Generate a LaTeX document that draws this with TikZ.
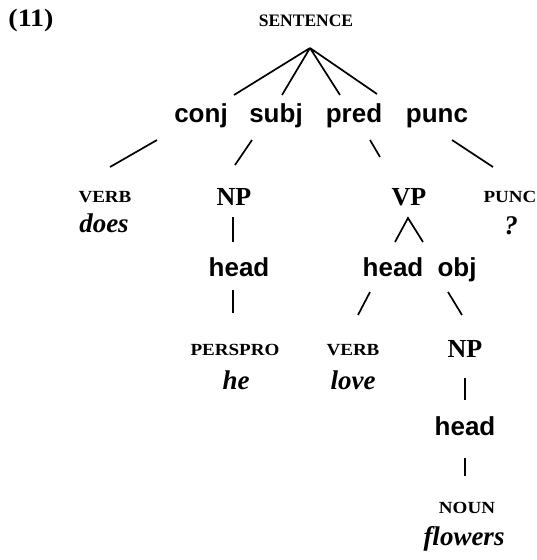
\documentclass[tikz,border=0pt]{standalone}
\usepackage{fontspec}
\setmainfont{Liberation Serif}
\newfontfamily\sfl{Liberation Sans}
\newfontfamily\scfont[FakeStretch=1.12]{Liberation Serif}
\begin{document}
\begin{tikzpicture}[x=1pt,y=-1pt,
  every node/.style={inner sep=0pt, anchor=base},
  lab/.style={font=\sfl\bfseries\fontsize{26}{26}\selectfont},
  cat/.style={font=\bfseries\fontsize{26}{26}\selectfont},
  sc/.style={font=\scfont\bfseries\fontsize{17}{17}\selectfont},
  wrd/.style={font=\bfseries\itshape\fontsize{27}{27}\selectfont},
  br/.style={line width=1.7pt}]
\useasboundingbox (0,0) rectangle (537,560);
% labels
\node[font=\scfont\bfseries\fontsize{25}{25}\selectfont] (num) at (31,26) {(11)};
\node[font=\bfseries\fontsize{17.5}{17.5}\selectfont] (sent) at (306,26) {SENTENCE};
\node[lab] (conj) at (201,122) {conj};
\node[lab] (subj) at (276,122) {subj};
\node[lab] (pred) at (354,122) {pred};
\node[lab] (punc) at (437,122) {punc};
\node[sc] (verb1) at (105,202) {VERB};
\node[wrd] (does) at (104,232) {does};
\node[cat] (np1) at (234,205) {NP};
\node[cat] (vp) at (409,205) {VP};
\node[sc] (punc2) at (510,202) {PUNC};
\node[wrd] (qm) at (511,234) {?};
\node[lab] (head1) at (239,276) {head};
\node[lab] (head2) at (393,276) {head};
\node[lab] (obj) at (457,276) {obj};
\node[sc] (perspro) at (235,355) {PERSPRO};
\node[wrd] (he) at (236,389) {he};
\node[sc] (verb2) at (353,355) {VERB};
\node[wrd] (love) at (353,389) {love};
\node[cat] (np2) at (465,357) {NP};
\node[lab] (head3) at (465,435) {head};
\node[sc] (noun) at (467,513) {NOUN};
\node[wrd] (flowers) at (464,545) {flowers};
% connector end points
\coordinate (apex) at (310,48);
\coordinate (c1) at (234,95);
\coordinate (s1) at (282,95);
\coordinate (p1) at (340,95);
\coordinate (u1) at (377,94);
\coordinate (c2a) at (157,140); \coordinate (c2b) at (110,167);
\coordinate (s2a) at (252,140); \coordinate (s2b) at (235,165);
\coordinate (p2a) at (370,140); \coordinate (p2b) at (380,157);
\coordinate (u2a) at (452,140); \coordinate (u2b) at (493,167);
\coordinate (n1a) at (233,217); \coordinate (n1b) at (233,242);
\coordinate (h1a) at (233,290); \coordinate (h1b) at (233,313);
\coordinate (va) at (395,242); \coordinate (vt) at (408,218); \coordinate (vb) at (423,242);
\coordinate (h2a) at (370,292); \coordinate (h2b) at (358,315);
\coordinate (o1a) at (448,292); \coordinate (o1b) at (462,315);
\coordinate (n2a) at (465,378); \coordinate (n2b) at (465,400);
\coordinate (h3a) at (465,458); \coordinate (h3b) at (465,476);
\draw[br] (apex) -- (c1) (apex) -- (s1) (apex) -- (p1) (apex) -- (u1);
\draw[br] (c2a) -- (c2b);
\draw[br] (s2a) -- (s2b);
\draw[br] (p2a) -- (p2b);
\draw[br] (u2a) -- (u2b);
\draw[br] (n1a) -- (n1b);
\draw[br] (h1a) -- (h1b);
\draw[br, line join=miter] (va) -- (vt) -- (vb);
\draw[br] (h2a) -- (h2b);
\draw[br] (o1a) -- (o1b);
\draw[br] (n2a) -- (n2b);
\draw[br] (h3a) -- (h3b);
\end{tikzpicture}
\end{document}
